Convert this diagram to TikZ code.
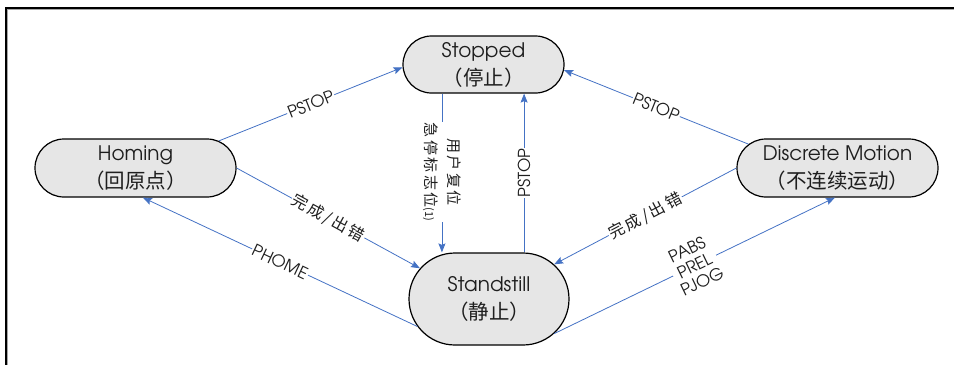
\documentclass[tikz,border=0pt]{standalone}
\usepackage{fontspec}
\setmainfont{TeX Gyre Adventor}
\newfontfamily\cjk{Noto Sans CJK SC}
\usetikzlibrary{shapes.misc,arrows.meta}
\definecolor{edgeblue}{RGB}{68,114,196}
\definecolor{nodegray}{RGB}{230,230,230}
\definecolor{txt}{RGB}{30,30,30}
\newcommand{\ck}{\kern2.5pt}
\newcommand{\zh}[1]{{\fontsize{20.5}{28}\selectfont\cjk #1}}
\begin{document}
\begin{tikzpicture}[x=1pt,y=-1pt,
  state/.style={draw=black, line width=1.2pt, fill=nodegray, rounded rectangle,
    inner sep=0pt, align=center, text=txt, font=\fontsize{20}{28}\selectfont},
  trans/.style={draw=edgeblue, line width=0.8pt,
    -{Stealth[length=9pt,width=7pt,inset=1.5pt]}},
  lbl/.style={fill=white, inner sep=1pt, text=txt, font=\fontsize{16.5}{17}\selectfont},
  frameline/.style={draw=black, line width=2pt}
]
\useasboundingbox (0,0) rectangle (954,365);
% frame
\draw[draw=black!35, line width=1pt] (954,9.5) -- (7.5,9.5) -- (7.5,365);
\draw[frameline] (954,7.5) -- (6,7.5) -- (6,365);

% states
\node[state, minimum width=161pt, minimum height=57pt] (stopped) at (483.5,64.5)
  {Stopped\\\zh{（停止）}};
\node[state, minimum width=201pt, minimum height=58pt] (homing) at (135.5,168)
  {Homing\\\zh{（回原点）}};
\node[state, minimum width=201pt, minimum height=58pt] (discrete) at (837.5,168)
  {Discrete Motion\\\zh{（不连续运动）}};
\node[state, minimum width=160pt, minimum height=92pt] (standstill) at (489,299)
  {Standstill\\\zh{（静止）}};

% transitions
\draw[trans] (homing.18) -- node[lbl, sloped] {PSTOP} (stopped.182);
\draw[trans] (discrete.165) -- node[lbl, sloped] {PSTOP} (stopped.-4);
\draw[trans] (stopped.215) -- node[lbl, rotate=-90, align=center, xshift=-1pt,
    font=\fontsize{15}{23}\selectfont\cjk]
  {用\ck 户\ck 复\ck 位\\急\ck 停\ck 标\ck 志\ck 位{\fontsize{11}{11}\selectfont(1)}}
  (stopped.215 |- standstill.north);
\draw[trans] (standstill.53.5) -- node[lbl, rotate=90] {PSTOP} (standstill.53.5 |- stopped.south);
\draw[trans] (homing.east) -- node[lbl, sloped, font=\fontsize{16}{17}\selectfont\cjk]
  {完\ck 成\ck /\ck 出\ck 错} (standstill.156);
\draw[trans] (standstill.201) -- node[lbl, sloped] {PHOME} (homing.-76);
\draw[trans] (discrete.west) -- node[lbl, sloped, font=\fontsize{16}{17}\selectfont\cjk]
  {完\ck 成\ck /\ck 出\ck 错} (standstill.28);
\draw[trans] (standstill.-28) -- node[lbl, sloped, align=center, font=\fontsize{16.5}{17.5}\selectfont]
  {PABS\\PREL\\PJOG} (discrete.-95);
\end{tikzpicture}
\end{document}
